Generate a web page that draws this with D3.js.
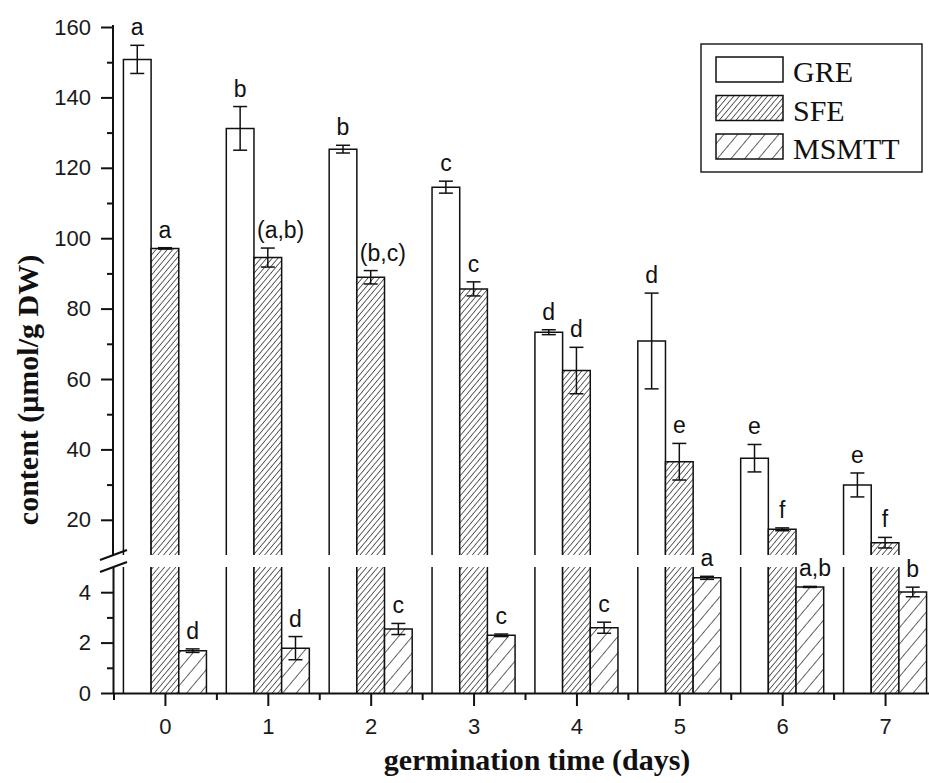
<!DOCTYPE html>
<html>
<head>
<meta charset="utf-8">
<script src="https://cdn.jsdelivr.net/npm/d3@7"></script>
<style>
  html, body { margin: 0; padding: 0; background: #fff; }
  svg { display: block; }
</style>
</head>
<body>
<svg id="chart" width="929" height="783"></svg>
<script>
// Germination days
const days = [0, 1, 2, 3, 4, 5, 6, 7];
const series = ["GRE", "SFE", "MSMTT"];

// Content (µmol/g DW), mean and error per day
const greValues   = [150.8, 131.2, 125.3, 114.5, 73.3, 70.8, 37.5, 29.9];
const greErrors   = [4.0, 6.2, 1.1, 1.7, 0.7, 13.6, 3.9, 3.4];
const sfeValues   = [97.1, 94.5, 88.9, 85.6, 62.4, 36.5, 17.3, 13.5];
const sfeErrors   = [0.2, 2.7, 1.9, 2.0, 6.6, 5.2, 0.4, 1.5];
const msmttValues = [1.68, 1.78, 2.54, 2.29, 2.59, 4.57, 4.21, 4.01];
const msmttErrors = [0.07, 0.46, 0.22, 0.05, 0.22, 0.06, 0.02, 0.19];

// Significance letters
const greLetters   = ["a", "b", "b", "c", "d", "d", "e", "e"];
const sfeLetters   = ["a", "(a,b)", "(b,c)", "c", "d", "e", "f", "f"];
const msmttLetters = ["d", "d", "c", "c", "c", "a", "a,b", "b"];

// Axis ticks
const upperMajorTicks = [20, 40, 60, 80, 100, 120, 140, 160];
const upperMinorTicks = [30, 50, 70, 90, 110, 130, 150];
const lowerMajorTicks = [0, 2, 4];
const lowerMinorTicks = [1, 3];
const xMinorTicks = [-0.5, 0.5, 1.5, 2.5, 3.5, 4.5, 5.5, 6.5, 7.5];

const values  = { GRE: greValues,  SFE: sfeValues,  MSMTT: msmttValues };
const errors  = { GRE: greErrors,  SFE: sfeErrors,  MSMTT: msmttErrors };
const letters = { GRE: greLetters, SFE: sfeLetters, MSMTT: msmttLetters };
const fills   = { GRE: "#fff", SFE: "url(#hatchDense)", MSMTT: "url(#hatchSparse)" };

const svg = d3.select("#chart");
const SANS = "'Liberation Sans', Arial, sans-serif";
const SERIF = "'Liberation Serif', 'Times New Roman', serif";

// Hatch patterns
const defs = svg.append("defs");
function hatch(id, spacing, width) {
  const p = defs.append("pattern")
    .attr("id", id)
    .attr("patternUnits", "userSpaceOnUse")
    .attr("width", spacing).attr("height", spacing)
    .attr("patternTransform", "rotate(40)");
  p.append("rect").attr("width", spacing).attr("height", spacing).attr("fill", "#fff");
  p.append("line")
    .attr("x1", 0).attr("y1", 0).attr("x2", 0).attr("y2", spacing)
    .attr("stroke", "#111").attr("stroke-width", width);
}
hatch("hatchDense", 4.3, 1.3);
hatch("hatchSparse", 10.5, 1.3);

// Scales: broken y axis with an upper and a lower segment
const xLin = d3.scaleLinear().domain([-0.5, 7.5]).range([113.5, 936.5]);
const xBand = d3.scaleBand().domain(days).range([113.5, 936.5])
  .paddingInner(0.193).paddingOuter(0.0965);
const xSub = d3.scaleBand().domain(series).range([0, xBand.bandwidth()]);
const yUp = d3.scaleLinear().domain([10, 160]).range([555, 27]);
const yLo = d3.scaleLinear().domain([0, 5]).range([693, 567]);
const segments = [yUp, yLo];

// Bars, drawn in each segment they reach
const barG = svg.append("g");
series.forEach(s => {
  days.forEach((d, i) => {
    const v = values[s][i];
    const x0 = xBand(d) + xSub(s);
    const w = xSub.bandwidth();
    segments.forEach(y => {
      const [lo, hi] = y.domain();
      if (v <= lo) return;
      const top = Math.min(v, hi);
      const yt = y(top), yb = y(lo);
      barG.append("rect")
        .attr("x", x0).attr("y", yt).attr("width", w).attr("height", yb - yt)
        .attr("fill", fills[s]);
      const path = d3.path();
      path.moveTo(x0, yb); path.lineTo(x0, yt);
      if (v <= hi) path.lineTo(x0 + w, yt); else path.moveTo(x0 + w, yt);
      path.lineTo(x0 + w, yb);
      barG.append("path").attr("d", path.toString())
        .attr("fill", "none").attr("stroke", "#111").attr("stroke-width", 1.5);
    });
  });
});

// Error bars and letters
const errG = svg.append("g").attr("stroke", "#111").attr("stroke-width", 1.5);
const labG = svg.append("g").attr("font-family", SANS).attr("font-size", 23).attr("fill", "#111");
series.forEach(s => {
  days.forEach((d, i) => {
    const v = values[s][i], e = errors[s][i];
    const y = v > 10 ? yUp : yLo;
    const x0 = xBand(d) + xSub(s);
    const cx = x0 + xSub.bandwidth() / 2;
    const yTop = y(v + e), yBot = y(v - e);
    errG.append("line").attr("x1", cx).attr("x2", cx).attr("y1", yTop).attr("y2", yBot);
    errG.append("line").attr("x1", cx - 7).attr("x2", cx + 7).attr("y1", yTop).attr("y2", yTop);
    errG.append("line").attr("x1", cx - 7).attr("x2", cx + 7).attr("y1", yBot).attr("y2", yBot);
    const txt = letters[s][i];
    const multi = txt.length > 1;
    labG.append("text")
      .attr("x", multi ? x0 + 3 : cx)
      .attr("y", yTop - 10)
      .attr("text-anchor", multi ? "start" : "middle")
      .text(txt);
  });
});

// Axes
function styleAxis(g) {
  g.selectAll("path.domain").attr("stroke", "#111").attr("stroke-width", 2);
  g.selectAll(".tick line").attr("stroke", "#111").attr("stroke-width", 2);
  g.selectAll(".tick text").attr("font-family", SANS).attr("font-size", 22).attr("fill", "#1a1a1a");
}
const fmt = d3.format("d");

svg.append("g").attr("transform", "translate(113,0)")
  .call(d3.axisLeft(yUp).tickValues(upperMajorTicks).tickFormat(fmt).tickSize(12).tickPadding(10).tickSizeOuter(0))
  .call(g => g.select("path.domain").attr("d", `M0,${yUp.range()[0]}V${yUp(160) - 2}`))
  .call(styleAxis);
svg.append("g").attr("transform", "translate(113,0)")
  .call(d3.axisLeft(yUp).tickValues(upperMinorTicks).tickFormat("").tickSize(6).tickSizeOuter(0))
  .call(g => g.select("path.domain").remove())
  .call(styleAxis);
svg.append("g").attr("transform", "translate(113,0)")
  .call(d3.axisLeft(yLo).tickValues(lowerMajorTicks).tickFormat(fmt).tickSize(12).tickPadding(10).tickSizeOuter(0))
  .call(styleAxis);
svg.append("g").attr("transform", "translate(113,0)")
  .call(d3.axisLeft(yLo).tickValues(lowerMinorTicks).tickFormat("").tickSize(6).tickSizeOuter(0))
  .call(g => g.select("path.domain").remove())
  .call(styleAxis);

svg.append("g").attr("transform", `translate(0,${yLo(0)})`)
  .call(d3.axisBottom(xLin).tickValues(days).tickFormat(fmt).tickSize(13).tickPadding(12).tickSizeOuter(0))
  .call(styleAxis);
svg.append("g").attr("transform", `translate(0,${yLo(0)})`)
  .call(d3.axisBottom(xLin).tickValues(xMinorTicks).tickFormat("").tickSize(7).tickSizeOuter(0))
  .call(g => g.select("path.domain").remove())
  .call(styleAxis);

// Axis break marks
const brk = svg.append("g").attr("stroke", "#111").attr("stroke-width", 2.2);
[yUp.range()[0], yLo.range()[1]].forEach(yb => {
  brk.append("line").attr("x1", 100).attr("y1", yb + 5).attr("x2", 127).attr("y2", yb - 5);
});

// Axis titles
svg.append("text")
  .attr("x", 537).attr("y", 770)
  .attr("text-anchor", "middle")
  .attr("font-family", SERIF).attr("font-weight", "bold").attr("font-size", 30)
  .attr("fill", "#111")
  .text("germination time (days)");
svg.append("text")
  .attr("transform", "translate(38,390) rotate(-90)")
  .attr("text-anchor", "middle")
  .attr("font-family", SERIF).attr("font-weight", "bold").attr("font-size", 30)
  .attr("fill", "#111")
  .text("content (μmol/g DW)");

// Legend
const leg = svg.append("g");
leg.append("rect").attr("x", 701).attr("y", 44).attr("width", 221).attr("height", 128)
  .attr("fill", "#fff").attr("stroke", "#222").attr("stroke-width", 1.5);
series.forEach((s, i) => {
  const yy = 57 + i * 38.5;
  leg.append("rect").attr("x", 716).attr("y", yy).attr("width", 67).attr("height", 25)
    .attr("fill", fills[s]).attr("stroke", "#111").attr("stroke-width", 1.5);
  leg.append("text").attr("x", 793).attr("y", yy + 25)
    .attr("font-family", SERIF).attr("font-size", 30).attr("fill", "#111")
    .text(s);
});
</script>
</body>
</html>
